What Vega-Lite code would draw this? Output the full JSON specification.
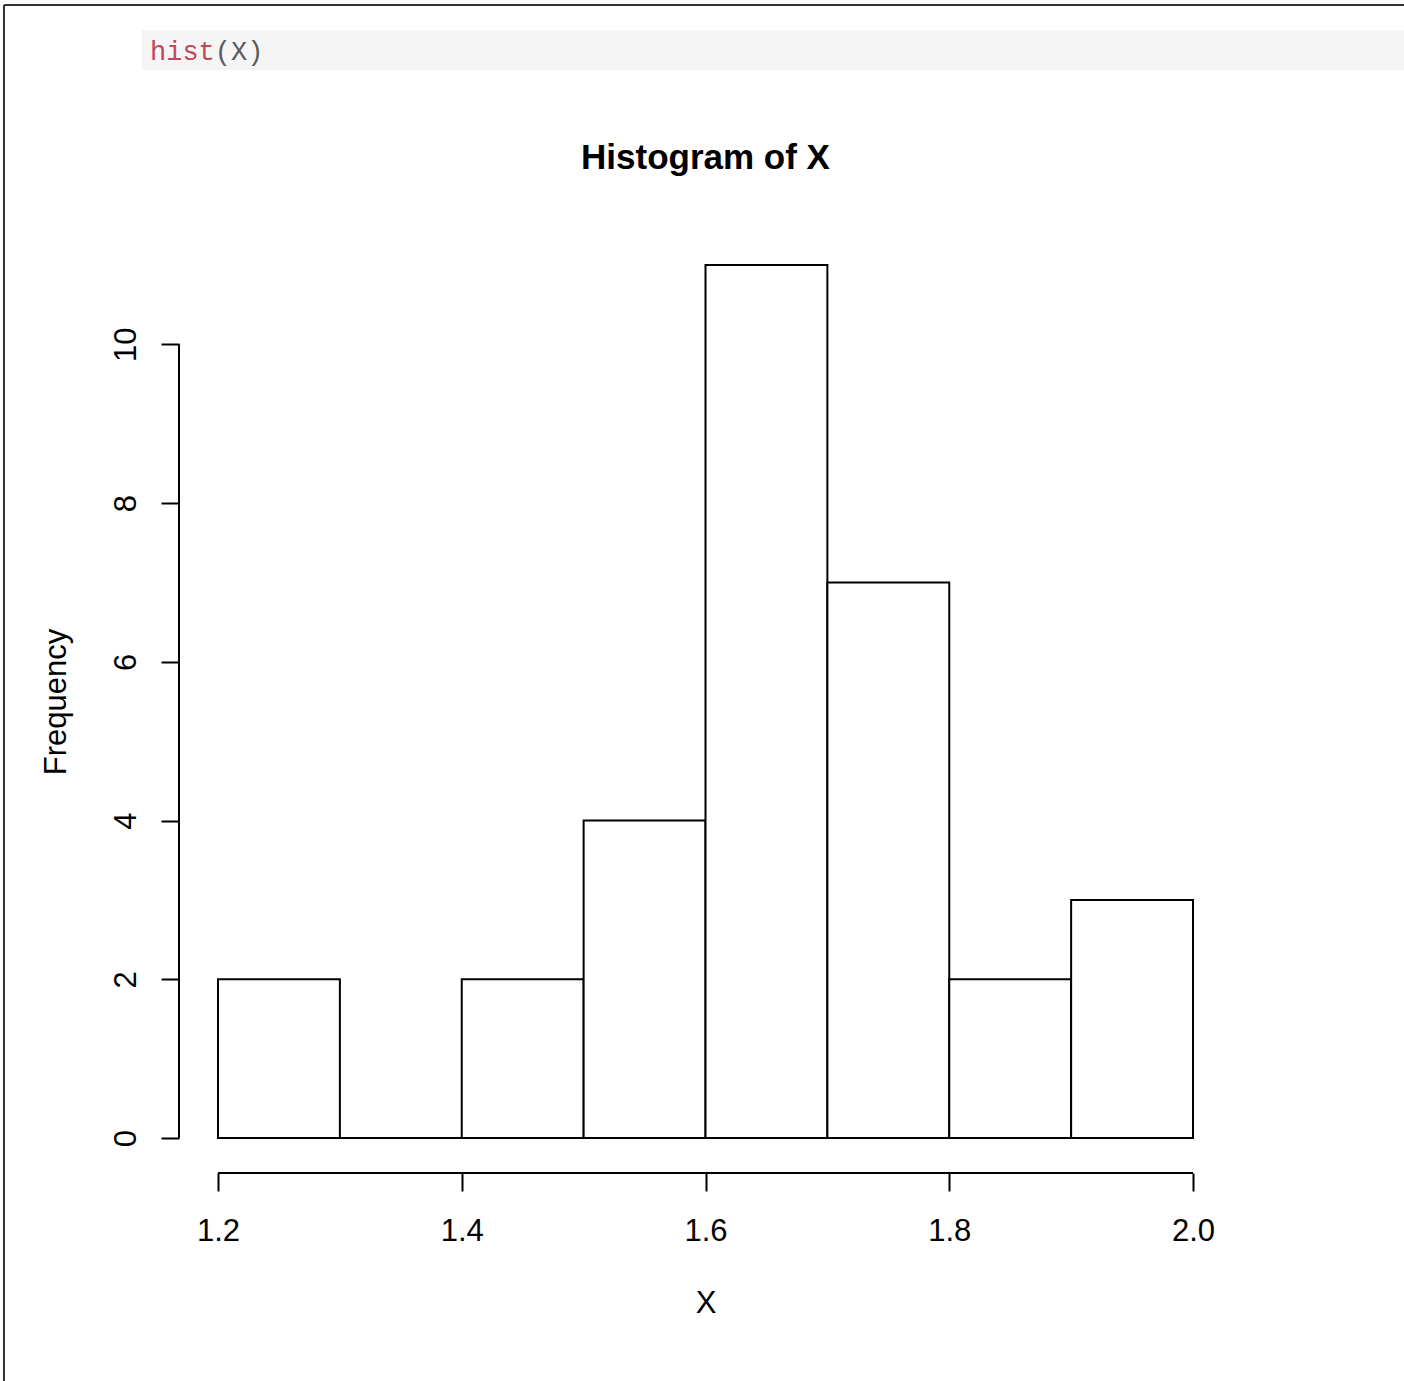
{
  "$schema": "https://vega.github.io/schema/vega-lite/v6.json",
  "width": 1053,
  "height": 943,
  "autosize": {"type": "none"},
  "padding": {"left": 179, "top": 230, "right": 172, "bottom": 208},
  "background": "white",
  "config": {"view": {"stroke": null}, "font": "Liberation Sans"},
  "data": {"values": [{"one": 1}]},
  "layer": [
    {
      "data": {"values": [
        {"bin_start": 1.2, "bin_end": 1.3, "count": 2},
        {"bin_start": 1.3, "bin_end": 1.4, "count": 0},
        {"bin_start": 1.4, "bin_end": 1.5, "count": 2},
        {"bin_start": 1.5, "bin_end": 1.6, "count": 4},
        {"bin_start": 1.6, "bin_end": 1.7, "count": 11},
        {"bin_start": 1.7, "bin_end": 1.8, "count": 7},
        {"bin_start": 1.8, "bin_end": 1.9, "count": 2},
        {"bin_start": 1.9, "bin_end": 2.0, "count": 3}
      ]},
      "mark": {"type": "rect", "fill": "white", "stroke": "black", "strokeWidth": 2},
      "encoding": {
        "x": {"field": "bin_start", "type": "quantitative",
          "scale": {"domain": [1.168, 2.032], "nice": false, "zero": false},
          "axis": {"values": [1.2, 1.4, 1.6, 1.8, 2.0], "format": ".1f", "domain": false, "grid": false, "tickSize": 18, "tickWidth": 2, "tickColor": "black", "labelFontSize": 31, "labelFont": "Liberation Sans", "labelColor": "black", "labelPadding": 25, "labelFlush": false, "labelOverlap": false, "title": "X", "titleFontSize": 31, "titleFont": "Liberation Sans", "titleFontWeight": "normal", "titleColor": "black", "titleBaseline": "alphabetic", "titleY": 139, "titleX": 526.5, "titleAlign": "center"}},
        "x2": {"field": "bin_end"},
        "y": {"field": "count", "type": "quantitative",
          "scale": {"domain": [-0.44, 11.44], "nice": false, "zero": false},
          "axis": {"values": [0, 2, 4, 6, 8, 10], "format": "d", "domain": false, "grid": false, "tickSize": 18, "tickWidth": 2, "tickColor": "black", "labelAngle": -90, "labelAlign": "center", "labelBaseline": "alphabetic", "labelPadding": 26, "labelFontSize": 31, "labelFont": "Liberation Sans", "labelColor": "black", "labelFlush": false, "labelOverlap": false, "title": "Frequency", "titleFontSize": 31, "titleFont": "Liberation Sans", "titleFontWeight": "normal", "titleColor": "black", "titleAngle": -90, "titleBaseline": "alphabetic", "titleAlign": "center", "titleX": -114, "titleY": 471.5}},
        "y2": {"datum": 0}
      }
    },
    {
      "mark": {"type": "rect", "fill": "#f5f5f5", "clip": false},
      "encoding": {
        "x": {"datum": 1.1376, "type": "quantitative"},
        "x2": {"datum": 2.4},
        "y": {"datum": 13.4556, "type": "quantitative"},
        "y2": {"datum": 13.9595}
      }
    },
    {
      "mark": {"type": "text", "font": "Liberation Mono", "fontSize": 27, "align": "left", "baseline": "alphabetic", "color": "#c0485a", "clip": false},
      "encoding": {
        "x": {"datum": 1.1442, "type": "quantitative"},
        "y": {"datum": 13.5816, "type": "quantitative"},
        "text": {"value": "hist"}
      }
    },
    {
      "mark": {"type": "text", "font": "Liberation Mono", "fontSize": 27, "align": "left", "baseline": "alphabetic", "color": "#5a5a5a", "clip": false},
      "encoding": {
        "x": {"datum": 1.1974, "type": "quantitative"},
        "y": {"datum": 13.5816, "type": "quantitative"},
        "text": {"value": "(X)"}
      }
    },
    {
      "mark": {"type": "text", "font": "Liberation Sans", "fontSize": 35, "fontWeight": "bold", "align": "center", "baseline": "alphabetic", "color": "black", "clip": false},
      "encoding": {
        "x": {"datum": 1.6, "type": "quantitative"},
        "y": {"datum": 12.21, "type": "quantitative"},
        "text": {"value": "Histogram of X"}
      }
    },
    {
      "mark": {"type": "rule", "stroke": "#333333", "strokeWidth": 2, "clip": false},
      "encoding": {
        "x": {"datum": 1.0244, "type": "quantitative"},
        "x2": {"datum": 2.4},
        "y": {"datum": 14.2745, "type": "quantitative"}
      }
    },
    {
      "mark": {"type": "rule", "stroke": "#333333", "strokeWidth": 2, "clip": false},
      "encoding": {
        "x": {"datum": 1.0244, "type": "quantitative"},
        "y": {"datum": 14.2745, "type": "quantitative"},
        "y2": {"datum": -4}
      }
    },
    {
      "mark": {"type": "rule", "stroke": "black", "strokeWidth": 2},
      "encoding": {
        "x": {"datum": 1.2, "type": "quantitative"},
        "x2": {"datum": 2.0},
        "y": {"datum": -0.44, "type": "quantitative"}
      }
    },
    {
      "mark": {"type": "rule", "stroke": "black", "strokeWidth": 2},
      "encoding": {
        "x": {"datum": 1.168, "type": "quantitative"},
        "y": {"datum": 0, "type": "quantitative"},
        "y2": {"datum": 10}
      }
    }
  ]
}
